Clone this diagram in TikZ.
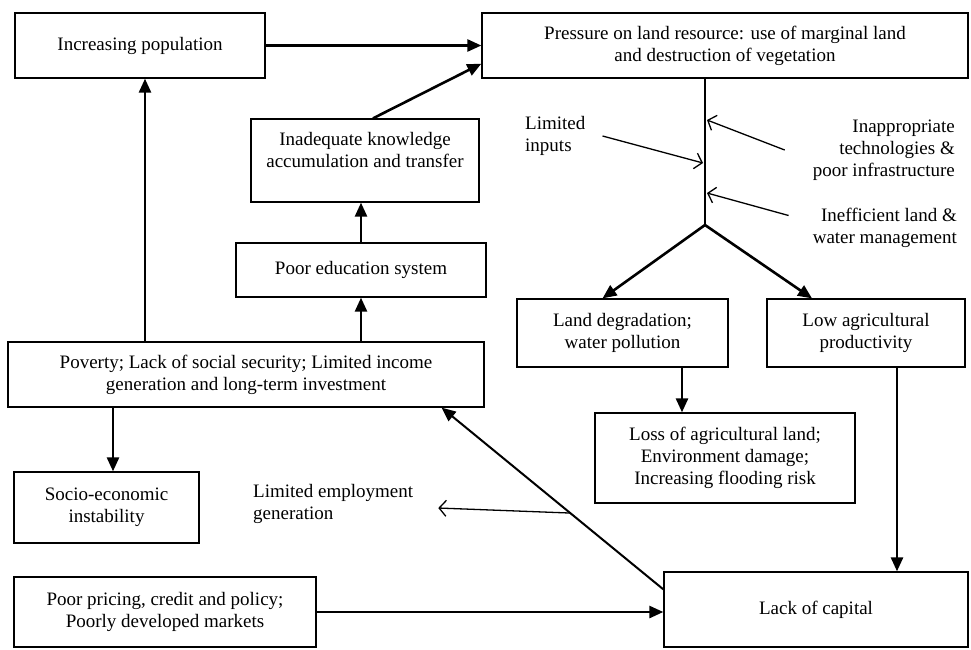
\documentclass[tikz,border=0pt]{standalone}
\usepackage{fontspec}
\setmainfont{Liberation Serif}
\usetikzlibrary{arrows.meta}

\tikzset{
  box/.style={draw, line width=1.3pt, align=center, inner sep=0pt},
  flow/.style={line width=2.6pt, -{Triangle[length=14pt,width=12pt]}},
  feed/.style={line width=1.3pt, -{Straight Barb[length=7pt,width=16pt]}},
  note/.style={inner sep=0pt, align=left},
}

\begin{document}
\begin{tikzpicture}[x=1pt, y=-1pt, font=\fontsize{19}{22}\selectfont]
  \useasboundingbox (0,0) rectangle (971,649);
  % boxes
  \node[box, minimum width=250, minimum height=65] (pop) at (140,45.5) {Increasing population};
  \node[box, minimum width=486, minimum height=65] (press) at (725,45.5) {Pressure on land resource: use of marginal land\\and destruction of vegetation};
  \node[box, minimum width=228, minimum height=83] (inad) at (365,160.5) {Inadequate knowledge\\accumulation and transfer\\~};
  \node[box, minimum width=250, minimum height=54] (edu) at (361,270) {Poor education system};
  \node[box, minimum width=476, minimum height=65] (pov) at (246,374.5) {Poverty; Lack of social security; Limited income\\generation and long-term investment};
  \node[box, minimum width=185, minimum height=71] (soc) at (106.5,507.5) {Socio-economic\\instability};
  \node[box, minimum width=302, minimum height=70] (price) at (165,612) {Poor pricing, credit and policy;\\Poorly developed markets};
  \node[box, minimum width=304, minimum height=75] (cap) at (816,609.5) {Lack of capital};
  \node[box, minimum width=211, minimum height=68] (land) at (622.5,333) {Land degradation;\\water pollution};
  \node[box, minimum width=198, minimum height=68] (low) at (866,333) {Low agricultural\\productivity};
  \node[box, minimum width=260, minimum height=90] (loss) at (725,458) {Loss of agricultural land;\\Environment damage;\\Increasing flooding risk};
  % side notes
  \node[note, anchor=west] (inp) at (525,136) {Limited\\inputs};
  \node[note, anchor=east, align=right] (tech) at (955,150) {Inappropriate\\technologies \&\\poor infrastructure};
  \node[note, anchor=east, align=right] (mgmt) at (957,227.5) {Inefficient land \&\\water management};
  \node[note, anchor=west] (emp) at (253,504) {Limited employment\\generation};
  % main flows
  \draw[flow] (pop.east) -- (press.west);
  \draw[flow] ([xshift=8pt]inad.north) -- ([yshift=15pt]press.south west);
  \draw[flow] (edu.north) -- (edu.north |- inad.south);
  \draw[flow] (edu.south |- pov.north) -- (edu.south);
  \draw[flow] ([xshift=5pt]pop.south |- pov.north) -- ([xshift=5pt]pop.south);
  \draw[flow] ([xshift=6.5pt]soc.north |- pov.south) -- ([xshift=6.5pt]soc.north);
  \draw[flow] (price.east) -- (price.east -| cap.west);
  \draw[flow] ([xshift=31pt]low.south) -- ([xshift=31pt]low.south |- cap.north);
  \draw[flow] ([xshift=59.5pt]land.south) -- ([xshift=59.5pt]land.south |- loss.north);
  \draw[flow, line width=2pt] ([yshift=-18pt]cap.north west) -- coordinate[pos=0.42] (jobs) ([xshift=-43pt]pov.south east);
  % stem and fork
  \coordinate (fork) at (705,225);
  \draw[line width=2.6pt] (press.south -| fork) -- (fork);
  \draw[flow] (fork) -- ([xshift=-20pt]land.north);
  \draw[flow] (fork) -- ([xshift=-54pt]low.north);
  % thin arrows
  \coordinate (hit1) at (703,163);
  \coordinate (hit2) at (707,120);
  \coordinate (hit3) at (707,193);
  \draw[feed] ([xshift=17pt]inp.east) -- (hit1);
  \draw[feed] ([xshift=-28pt]tech.west) -- (hit2);
  \draw[feed] ([shift={(-24pt,12pt)}]mgmt.west) -- (hit3);
  \draw[feed] (jobs) -- ([shift={(25pt,-4pt)}]emp.east);
\end{tikzpicture}
\end{document}
